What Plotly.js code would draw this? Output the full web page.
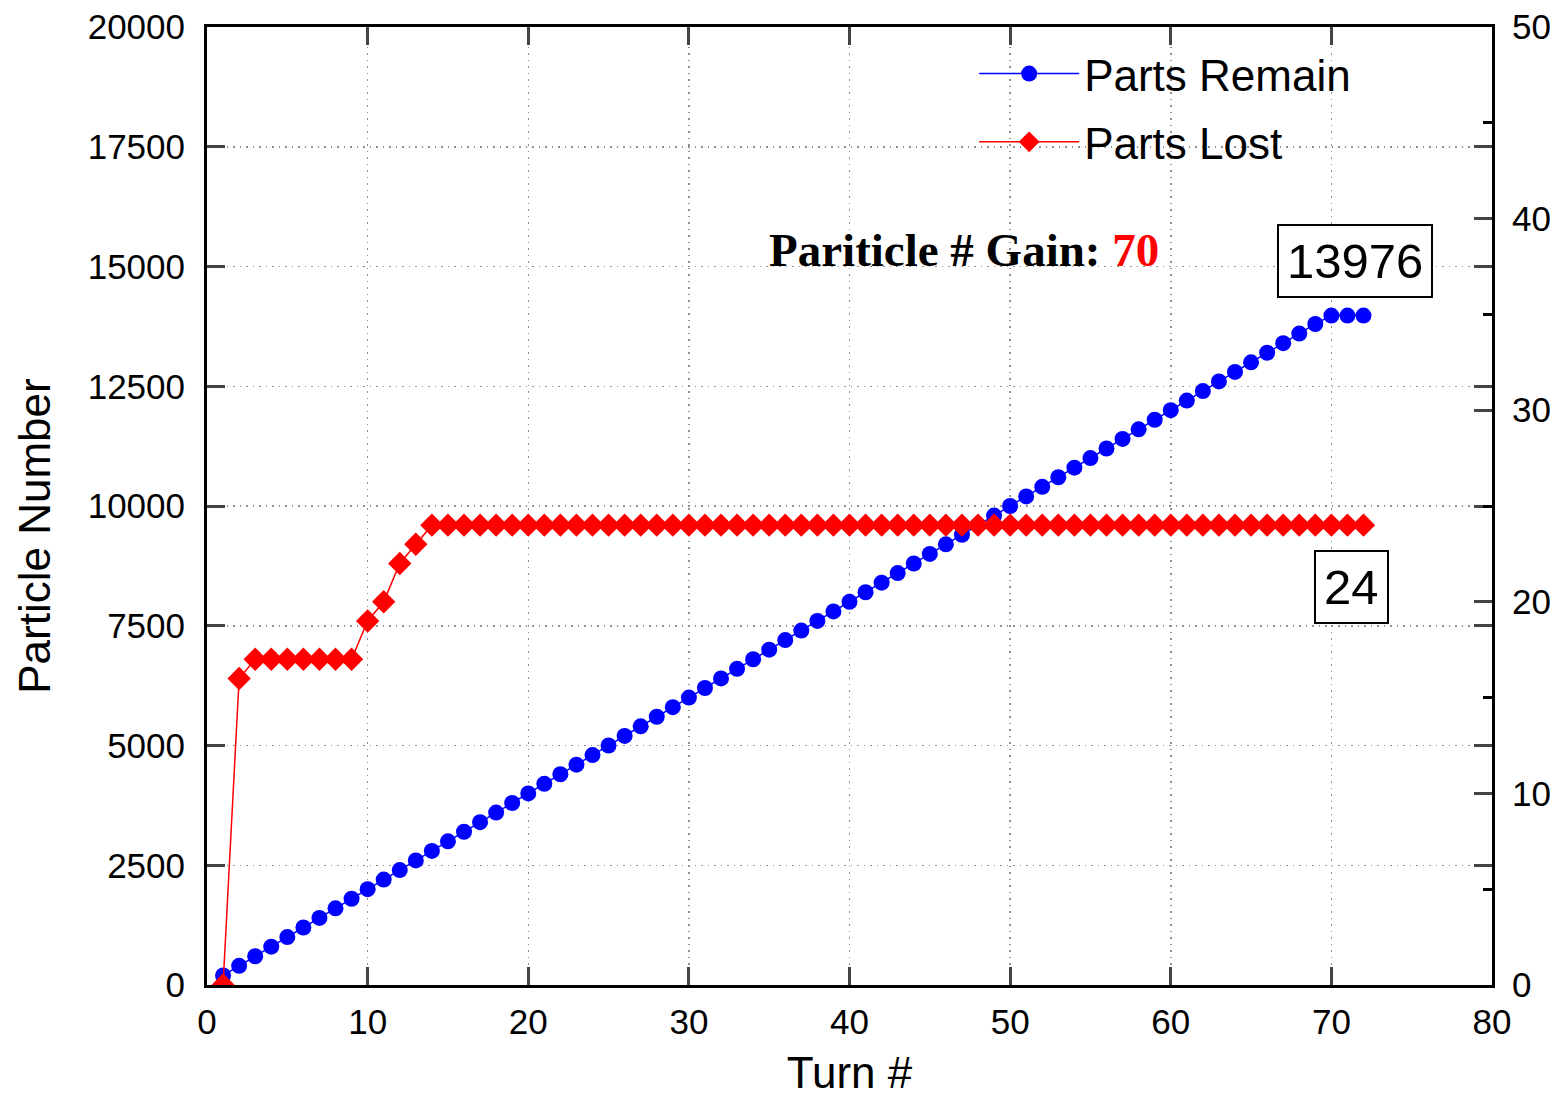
<!DOCTYPE html>
<html>
<head>
<meta charset="utf-8">
<script src="https://cdn.plot.ly/plotly-3.0.1.min.js"></script>
<style>html,body{margin:0;padding:0;background:#fff;}#chart{width:1564px;height:1097px;}</style>
</head>
<body>
<div id="chart"></div>
<script>
var turns = [1,2,3,4,5,6,7,8,9,10,11,12,13,14,15,16,17,18,19,20,21,22,23,24,25,26,27,28,29,30,31,32,33,34,35,36,37,38,39,40,41,42,43,44,45,46,47,48,49,50,51,52,53,54,55,56,57,58,59,60,61,62,63,64,65,66,67,68,69,70,71,72];
var partsRemain = [200,400,600,800,1000,1200,1400,1600,1800,2000,2200,2400,2600,2800,3000,3200,3400,3600,3800,4000,4200,4400,4600,4800,5000,5200,5400,5600,5800,6000,6200,6400,6600,6800,7000,7200,7400,7600,7800,8000,8200,8400,8600,8800,9000,9200,9400,9600,9800,10000,10200,10400,10600,10800,11000,11200,11400,11600,11800,12000,12200,12400,12600,12800,13000,13200,13400,13600,13800,13976,13976,13976];
var partsLost = [0,16,17,17,17,17,17,17,17,19,20,22,23,24,24,24,24,24,24,24,24,24,24,24,24,24,24,24,24,24,24,24,24,24,24,24,24,24,24,24,24,24,24,24,24,24,24,24,24,24,24,24,24,24,24,24,24,24,24,24,24,24,24,24,24,24,24,24,24,24,24,24];
var seriesNames = ["Parts Remain", "Parts Lost"];
var finalRemain = "13976";
var finalLost = "24";
var gainValue = "70";

var font = "Liberation Sans, Arial, sans-serif";
var gridDash = "1.5px,5px";
var traces = [
  {x: turns, y: partsRemain, name: seriesNames[0], type: "scatter", mode: "lines+markers",
   line: {color: "#0000ff", width: 1.5}, marker: {symbol: "circle", size: 16, color: "#0000ff"},
   legendgroup: "a", yaxis: "y"},
  {x: turns, y: partsLost, name: seriesNames[1], type: "scatter", mode: "lines+markers",
   line: {color: "#ff0000", width: 1.5}, marker: {symbol: "diamond", size: 18, color: "#ff0000"},
   legendgroup: "b", yaxis: "y2"}
];
var layout = {
  width: 1564, height: 1097,
  margin: {l: 207, r: 72, t: 27, b: 112},
  paper_bgcolor: "#fff", plot_bgcolor: "#fff",
  font: {family: font, color: "#000"},
  showlegend: true,
  legend: {x: 0.597, y: 0.988, xanchor: "left", yanchor: "top", font: {size: 44, family: font},
           itemwidth: 100, tracegroupgap: 8, traceorder: "grouped", bgcolor: "rgba(0,0,0,0)"},
  xaxis: {range: [0, 80], dtick: 10, tick0: 0, ticks: "inside", ticklen: 18, tickwidth: 3,
          showline: true, linewidth: 3, linecolor: "#000", mirror: "ticks",
          showgrid: true, gridcolor: "#909090", griddash: gridDash, gridwidth: 1.5, zeroline: false,
          tickfont: {size: 35}, ticklabelstandoff: 4, tickformat: "d",
          title: {text: "Turn #", font: {size: 44}, standoff: 29}},
  yaxis: {range: [0, 20000], dtick: 2500, tick0: 0, ticks: "inside", ticklen: 18, tickwidth: 3,
          showline: true, linewidth: 3, linecolor: "#000", mirror: "ticks",
          showgrid: true, gridcolor: "#909090", griddash: gridDash, gridwidth: 1.5, zeroline: false,
          tickfont: {size: 35}, ticklabelstandoff: 12, tickformat: "d"},
  yaxis2: {range: [0, 50], dtick: 10, tick0: 0, overlaying: "y", side: "right",
           ticks: "inside", ticklen: 18, tickwidth: 3, showline: true, linewidth: 3, linecolor: "#000",
           showgrid: false, zeroline: false, tickfont: {size: 35}, ticklabelstandoff: 10, tickformat: "d",
           minor: {dtick: 5, ticks: "inside", ticklen: 9, tickwidth: 3, tickcolor: "#000", showgrid: false}},
  annotations: [
    {xref: "paper", yref: "paper", x: -0.134, y: 0.4687, xanchor: "center", yanchor: "middle",
     text: "Particle Number", textangle: -90, showarrow: false, font: {size: 44, family: font}},
    {xref: "paper", yref: "paper", x: 0.589, y: 0.767, xanchor: "center", yanchor: "middle",
     text: "<b>Pariticle # Gain: <span style='color:#ff0000'>" + gainValue + "</span></b>",
     showarrow: false, font: {size: 47, family: "Liberation Serif, Times New Roman, serif", color: "#000"}},
    {xref: "paper", yref: "paper", x: 0.8934, y: 0.7557, xanchor: "center", yanchor: "middle",
     text: finalRemain, showarrow: false, font: {size: 49, family: font},
     bordercolor: "#000", borderwidth: 2, borderpad: 8, bgcolor: "#fff"},
    {xref: "paper", yref: "paper", x: 0.891, y: 0.4154, xanchor: "center", yanchor: "middle",
     text: finalLost, showarrow: false, font: {size: 49, family: font},
     bordercolor: "#000", borderwidth: 2, borderpad: 8, bgcolor: "#fff"}
  ]
};
Plotly.newPlot("chart", traces, layout, {staticPlot: true, displayModeBar: false});
</script>
</body>
</html>
